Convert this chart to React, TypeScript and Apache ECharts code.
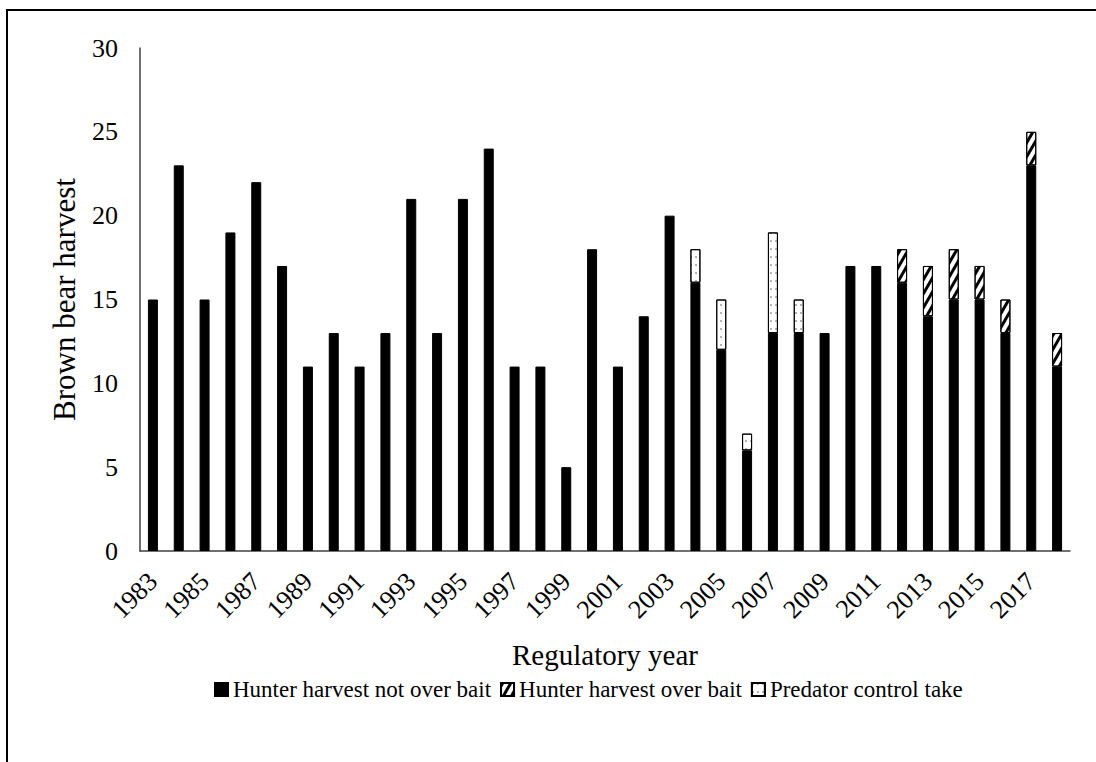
import React, { useEffect, useRef } from "react";
import * as echarts from "echarts";

const years = [
  "1983", "1984", "1985", "1986", "1987", "1988", "1989", "1990", "1991", "1992",
  "1993", "1994", "1995", "1996", "1997", "1998", "1999", "2000", "2001", "2002",
  "2003", "2004", "2005", "2006", "2007", "2008", "2009", "2010", "2011", "2012",
  "2013", "2014", "2015", "2016", "2017", "2018",
];

const notOverBait = [
  15, 23, 15, 19, 22, 17, 11, 13, 11, 13,
  21, 13, 21, 24, 11, 11, 5, 18, 11, 14,
  20, 16, 12, 6, 13, 13, 13, 17, 17, 16,
  14, 15, 15, 13, 23, 11,
];

const overBait = [
  null, null, null, null, null, null, null, null, null, null,
  null, null, null, null, null, null, null, null, null, null,
  null, null, null, null, null, null, null, null, null, 2,
  3, 3, 2, 2, 2, 2,
];

const predatorControl = [
  null, null, null, null, null, null, null, null, null, null,
  null, null, null, null, null, null, null, null, null, null,
  null, 2, 3, 1, 6, 2, null, null, null, null,
  null, null, null, null, null, null,
];

const seriesNames = [
  "Hunter harvest not over bait",
  "Hunter harvest over bait",
  "Predator control take",
];

const FONT = "'Liberation Serif', 'Times New Roman', serif";

export default function App() {
  const ref = useRef<HTMLDivElement>(null);

  useEffect(() => {
    document.body.style.margin = "0";
    if (!ref.current) return;
    const chart = echarts.init(ref.current, undefined, { renderer: "svg" });
    const border = { borderColor: "#000", borderWidth: 1 };
    chart.setOption({
      animation: false,
      backgroundColor: "#fff",
      textStyle: { fontFamily: FONT, color: "#000" },
      grid: { left: 140, right: 26, top: 48, bottom: 211 },
      legend: {
        left: 209,
        top: 673,
        itemWidth: 13,
        itemHeight: 13,
        itemGap: 9,
        icon: "rect",
        textStyle: { fontFamily: FONT, fontSize: 23, color: "#000" },
        data: seriesNames,
      },
      xAxis: {
        type: "category",
        data: years,
        boundaryGap: true,
        axisLine: { lineStyle: { color: "#404040", width: 1.5 } },
        axisTick: { show: false },
        axisLabel: {
          interval: 1,
          rotate: 45,
          margin: 26,
          fontSize: 26,
          fontFamily: FONT,
          color: "#000",
        },
        name: "Regulatory year",
        nameLocation: "middle",
        nameGap: 89,
        nameTextStyle: { fontFamily: FONT, fontSize: 29, color: "#000" },
      },
      yAxis: {
        type: "value",
        min: 0,
        max: 30,
        interval: 5,
        axisLine: { show: true, lineStyle: { color: "#404040", width: 1.5 } },
        axisTick: { show: false },
        splitLine: { show: false },
        axisLabel: { margin: 22, fontSize: 26, fontFamily: FONT, color: "#000" },
        name: "Brown bear harvest",
        nameLocation: "middle",
        nameGap: 60,
        nameTextStyle: { fontFamily: FONT, fontSize: 31, color: "#000" },
      },
      series: [
        {
          name: seriesNames[0],
          type: "bar",
          stack: "total",
          barWidth: 10,
          data: notOverBait,
          itemStyle: { color: "#000", ...border },
        },
        {
          name: seriesNames[1],
          type: "bar",
          stack: "total",
          barWidth: 10,
          data: overBait,
          itemStyle: {
            color: "#fff",
            ...border,
            decal: {
              symbol: "rect",
              color: "#000",
              backgroundColor: "#fff",
              dashArrayX: [1, 0],
              dashArrayY: [3, 4],
              rotation: -Math.PI / 3,
            },
          },
        },
        {
          name: seriesNames[2],
          type: "bar",
          stack: "total",
          barWidth: 10,
          data: predatorControl,
          itemStyle: {
            color: "#fff",
            ...border,
            decal: {
              symbol: "rect",
              symbolSize: 0.6,
              color: "#000",
              backgroundColor: "#fff",
              dashArrayX: [2, 3],
              dashArrayY: [2, 6],
              rotation: 0,
            },
          },
        },
      ],
      graphic: [
        {
          type: "rect",
          shape: { x: 7, y: 10, width: 1100, height: 800 },
          style: { fill: "none", stroke: "#000", lineWidth: 2 },
          silent: true,
        },
      ],
    });
    return () => chart.dispose();
  }, []);

  return <div ref={ref} style={{ width: 1096, height: 762 }} />;
}
